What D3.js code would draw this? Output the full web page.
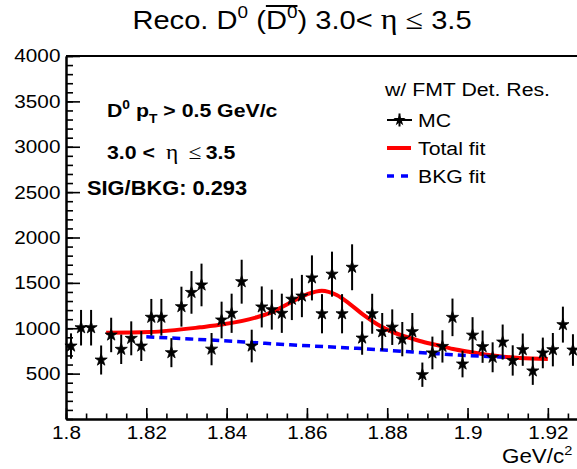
<!DOCTYPE html>
<html>
<head>
<meta charset="utf-8">
<script src="https://cdn.jsdelivr.net/npm/d3@7"></script>
<style>
body { margin: 0; background: #fff; }
svg { display: block; font-family: "Liberation Sans", Arial, Helvetica, sans-serif; }
</style>
</head>
<body>
<div id="chart"></div>
<script>
// bin centres (GeV/c^2), MC counts and their errors
var mass = [1.80125, 1.80375, 1.80625, 1.80875, 1.81125, 1.81375, 1.81625, 1.81875, 1.82125, 1.82375,
  1.82625, 1.82875, 1.83125, 1.83375, 1.83625, 1.83875, 1.84125, 1.84375, 1.84625, 1.84875,
  1.85125, 1.85375, 1.85625, 1.85875, 1.86125, 1.86375, 1.86625, 1.86875, 1.87125, 1.87375,
  1.87625, 1.87875, 1.88125, 1.88375, 1.88625, 1.88875, 1.89125, 1.89375, 1.89625, 1.89875,
  1.90125, 1.90375, 1.90625, 1.90875, 1.91125, 1.91375, 1.91625, 1.91875, 1.92125, 1.92375, 1.92625]
var counts = [804, 1006, 1006, 650, 926, 768, 889, 804, 1121, 1121,
  731, 1238, 1395, 1477, 770, 1091, 1165, 1513, 804, 1235,
  1205, 1165, 1320, 1355, 1555, 1160, 1596, 1160, 1672, 892,
  1160, 962, 1012, 880, 962, 488, 728, 800, 1120, 606,
  924, 797, 680, 848, 645, 764, 530, 728, 764, 1040, 760]
var errors = [140, 196, 196, 160, 190, 162, 187, 165, 202, 202,
  160, 220, 235, 235, 178, 202, 216, 242, 180, 226,
  220, 216, 230, 233, 248, 216, 248, 216, 253, 184,
  220, 206, 196, 189, 206, 134, 180, 178, 207, 147,
  198, 178, 165, 193, 167, 178, 154, 169, 184, 198, 174]

// fit curves
var totalFitX = [1.81, 1.8209, 1.8334, 1.8392, 1.8475, 1.8516, 1.8558, 1.86, 1.8637, 1.8674, 1.8707,
  1.874, 1.8775, 1.8799, 1.884, 1.8881, 1.8923, 1.8964, 1.9006, 1.9048, 1.9089, 1.913, 1.92]
var totalFitY = [951, 959, 1010, 1043, 1121, 1183, 1282, 1374, 1414, 1366, 1267,
  1150, 1045, 988, 915, 860, 815, 771, 738, 709, 687, 672, 660]
var bkgFitX = [1.82, 1.8309, 1.8392, 1.8475, 1.8558, 1.8641, 1.8724, 1.884, 1.8923, 1.9006, 1.91]
var bkgFitY = [905, 882, 862, 840, 818, 798, 779, 745, 720, 698, 680]

var xTickLabels = [1.8, 1.82, 1.84, 1.86, 1.88, 1.9, 1.92]
var yTickLabels = [500, 1000, 1500, 2000, 2500, 3000, 3500, 4000]

var W = 577, H = 469
var sx = 1.12  // the original picture is stretched sideways a little

var svg = d3.select("#chart").append("svg")
  .attr("width", W)
  .attr("height", H)

var x = d3.scaleLinear().domain([1.8, 1.93]).range([66, 588])
var y = d3.scaleLinear().domain([0, 4000]).range([419, 56])

// text helper: parts are [string, kind, dx]
function addText(parent, px, py, fs, parts, weight, anchor) {
  var g = parent.append("g").attr("transform", "translate(" + px + "," + py + ") scale(" + sx + ",1)")
  var t = g.append("text")
    .attr("font-size", fs)
    .attr("font-weight", weight || "normal")
    .attr("text-anchor", anchor || "start")
  var shift = 0
  parts.forEach(function(p) {
    var s = t.append("tspan").text(p[0])
    var want = 0
    if (p[1] == "sup") { want = -0.42 * fs; s.attr("font-size", fs * 0.65) }
    if (p[1] == "sub") { want = 0.32 * fs; s.attr("font-size", fs * 0.65) }
    if (p[1] == "sym") { s.attr("font-family", "'Liberation Serif', 'DejaVu Serif', serif").attr("font-weight", "normal").attr("font-size", fs * 1.1) }
    if (want != shift) { s.attr("dy", want - shift); shift = want }
    if (p[2]) s.attr("dx", p[2])
  })
  return {g: g, t: t}
}

// title
var title = addText(svg, 302, 28.5, 26, [["Reco. D"], ["0", "sup"], [" ("], ["D"], ["0", "sup"], [") 3.0< "],
  ["\u03b7", "sym"], [" \u2264 ", "sym"], ["3.5"]], "normal", "start")
var tnode = title.t.node()
var tw = tnode.getComputedTextLength()
title.t.attr("x", -tw / 2)
var ox0 = tnode.getStartPositionOfChar(10).x
var ox1 = tnode.getEndPositionOfChar(11).x
title.g.append("line")
  .attr("x1", ox0).attr("x2", ox1)
  .attr("y1", -22.5).attr("y2", -22.5)
  .attr("stroke", "#000").attr("stroke-width", 2)

// axes
var yMinor = svg.append("g").attr("transform", "translate(66,0)")
  .call(d3.axisLeft(y).ticks(40).tickSize(-7).tickSizeOuter(0).tickFormat(""))
var yMajor = svg.append("g").attr("transform", "translate(66,0)")
  .call(d3.axisLeft(y).tickValues(yTickLabels).tickSize(-14).tickSizeOuter(0).tickPadding(5)
    .tickFormat(d3.format("d")))
var xMinor = svg.append("g").attr("transform", "translate(0,419)")
  .call(d3.axisBottom(x).ticks(26).tickSize(-5.5).tickSizeOuter(0).tickFormat(""))
var xMajor = svg.append("g").attr("transform", "translate(0,419)")
  .call(d3.axisBottom(x).tickValues(xTickLabels).tickSize(-11).tickSizeOuter(0).tickPadding(7)
    .tickFormat(d3.format("~g")))

svg.selectAll(".tick line").attr("stroke", "#000").attr("stroke-width", 1.6)
svg.selectAll(".domain").attr("stroke", "#000").attr("stroke-width", 2)
svg.selectAll(".tick text")
  .attr("font-size", 18.5)
  .attr("fill", "#000")
  .attr("font-family", "'Liberation Sans', Arial, sans-serif")
  .attr("transform", "scale(" + sx + ",1)")

// top frame line
svg.append("line")
  .attr("x1", x(1.8)).attr("x2", x(1.93))
  .attr("y1", y(4000)).attr("y2", y(4000))
  .attr("stroke", "#000").attr("stroke-width", 2)

addText(svg, 502, 463, 20, [["GeV/c"], ["2", "sup"]])

// fits
var fitLine = d3.line()
  .x(function(d) { return x(d[0]) })
  .y(function(d) { return y(d[1]) })
  .curve(d3.curveMonotoneX)

svg.append("path")
  .datum(d3.zip(totalFitX, totalFitY))
  .attr("d", fitLine)
  .attr("fill", "none")
  .attr("stroke", "#ff0000")
  .attr("stroke-width", 4)

svg.append("path")
  .datum(d3.zip(bkgFitX, bkgFitY))
  .attr("d", fitLine)
  .attr("fill", "none")
  .attr("stroke", "#0000ff")
  .attr("stroke-width", 3.5)
  .attr("stroke-dasharray", "8,5")

// MC points
var pts = mass.map(function(m, i) { return {m: m, v: counts[i], e: errors[i]} })
var star = d3.symbol().type(d3.symbolStar).size(46)

svg.append("g").selectAll("line")
  .data(pts).enter().append("line")
  .attr("x1", function(d) { return x(d.m) })
  .attr("x2", function(d) { return x(d.m) })
  .attr("y1", function(d) { return y(d.v - d.e) })
  .attr("y2", function(d) { return y(d.v + d.e) })
  .attr("stroke", "#000")
  .attr("stroke-width", 2)

svg.append("g").selectAll("path")
  .data(pts).enter().append("path")
  .attr("d", star)
  .attr("transform", function(d) { return "translate(" + x(d.m) + "," + y(d.v) + ")" })
  .attr("fill", "#000")
  .attr("stroke", "#000")
  .attr("stroke-width", 0.8)

// stat text
addText(svg, 107, 117, 19, [["D"], ["0", "sup"], [" p"], ["T", "sub"], ["  > 0.5 GeV/c"]], "bold")
addText(svg, 107, 159, 19, [["3.0 <"], ["\u03b7", "sym", 10], ["\u2264", "sym", 9], ["3.5", null, 4]], "bold")
addText(svg, 87, 195, 19.5, [["SIG/BKG: 0.293"]], "bold")

// legend
var leg = svg.append("g")
addText(leg, 385, 96, 19, [["w/ FMT Det. Res."]])
leg.append("line").attr("x1", 387).attr("x2", 412).attr("y1", 120).attr("y2", 120)
  .attr("stroke", "#000").attr("stroke-width", 2)
leg.append("line").attr("x1", 399.5).attr("x2", 399.5).attr("y1", 113.5).attr("y2", 126.5)
  .attr("stroke", "#000").attr("stroke-width", 2)
leg.append("path").attr("d", star).attr("transform", "translate(399.5,120)").attr("fill", "#000")
addText(leg, 418, 127, 19, [["MC"]])
leg.append("line").attr("x1", 387).attr("x2", 411).attr("y1", 148).attr("y2", 148)
  .attr("stroke", "#ff0000").attr("stroke-width", 4)
addText(leg, 418, 155, 19, [["Total fit"]])
leg.append("line").attr("x1", 387).attr("x2", 411).attr("y1", 176).attr("y2", 176)
  .attr("stroke", "#0000ff").attr("stroke-width", 3.5).attr("stroke-dasharray", "7,7")
addText(leg, 418, 183, 19, [["BKG fit"]])
</script>
</body>
</html>
